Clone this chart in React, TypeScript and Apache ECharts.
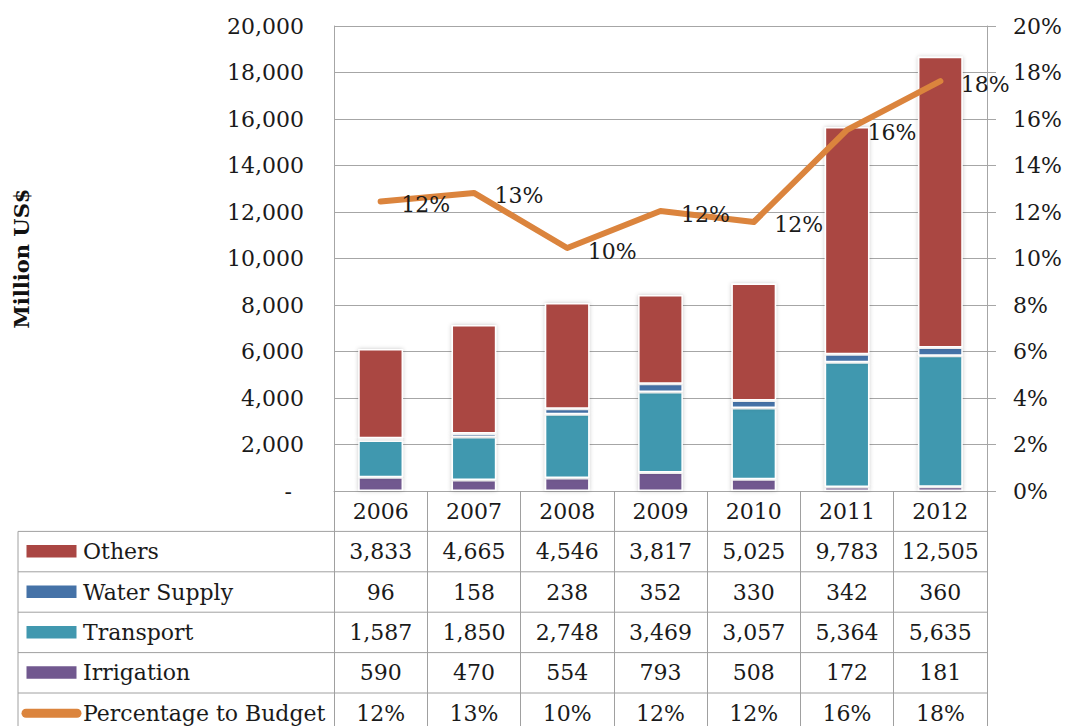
import React, { useEffect, useRef } from "react";
import * as echarts from "echarts";

const years = ["2006", "2007", "2008", "2009", "2010", "2011", "2012"];
const others = [3833, 4665, 4546, 3817, 5025, 9783, 12505];
const waterSupply = [96, 158, 238, 352, 330, 342, 360];
const transport = [1587, 1850, 2748, 3469, 3057, 5364, 5635];
const irrigation = [590, 470, 554, 793, 508, 172, 181];
const pctToBudget = [12.45, 12.82, 10.45, 12.04, 11.57, 15.53, 17.63];

const W = 1069;
const H = 726;
const GRID_LEFT = 334;
const GRID_RIGHT_X = 987;
const GRID_TOP = 26;
const AXIS_Y = 491;
const ROW_H = 40.4;
const TABLE_LEFT = 18;

const FONT = "DejaVu Serif";
const TXT = "#1a1a1a";
const GRIDC = "#a6a6a6";
const TABLEC = "#a0a0a0";

const COLORS = {
  others: "#AA4643",
  water: "#4572A7",
  transport: "#4198AF",
  irrigation: "#71588F",
  pct: "#DB843D",
};

const fmt = (v: number) => v.toLocaleString("en-US");

export default function App() {
  const ref = useRef<HTMLDivElement>(null);

  useEffect(() => {
    document.body.style.margin = "0";
    if (!ref.current) return;
    const chart = echarts.init(ref.current, null, { renderer: "svg" });

    const tableRows = [
      { name: "Others", color: COLORS.others, kind: "bar" },
      { name: "Water Supply", color: COLORS.water, kind: "bar" },
      { name: "Transport", color: COLORS.transport, kind: "bar" },
      { name: "Irrigation", color: COLORS.irrigation, kind: "bar" },
      { name: "Percentage to Budget", color: COLORS.pct, kind: "line" },
    ];

    const graphics: any[] = [];
    for (let k = 1; k <= 5; k++) {
      const y = AXIS_Y + ROW_H * k;
      graphics.push({
        type: "line",
        shape: { x1: TABLE_LEFT, y1: y, x2: GRID_RIGHT_X, y2: y },
        style: { stroke: TABLEC, lineWidth: 1 },
        silent: true,
      });
    }
    graphics.push({
      type: "line",
      shape: { x1: TABLE_LEFT, y1: AXIS_Y + ROW_H, x2: TABLE_LEFT, y2: H + 10 },
      style: { stroke: TABLEC, lineWidth: 1 },
      silent: true,
    });
    tableRows.forEach((r, i) => {
      const cy = AXIS_Y + ROW_H * (i + 1.5);
      if (r.kind === "bar") {
        graphics.push({
          type: "rect",
          shape: { x: 26.5, y: cy - 6.5, width: 50, height: 12.5 },
          style: { fill: r.color },
          silent: true,
        });
      } else {
        graphics.push({
          type: "line",
          shape: { x1: 26, y1: cy, x2: 77, y2: cy },
          style: { stroke: r.color, lineWidth: 9, lineCap: "round" },
          silent: true,
        });
      }
      graphics.push({
        type: "text",
        x: 83,
        y: cy,
        style: {
          text: r.name,
          font: `22px "${FONT}"`,
          fill: TXT,
          verticalAlign: "middle",
          align: "left",
        },
        silent: true,
      });
    });

    const barCommon = {
      type: "bar",
      stack: "total",
      barWidth: "48%",
      yAxisIndex: 0,
      itemStyle: {
        borderColor: "#ffffff",
        borderWidth: 1.5,
        shadowBlur: 4,
        shadowColor: "rgba(0,0,0,0.22)",
      },
      emphasis: { disabled: true },
    };

    chart.setOption({
      animation: false,
      grid: {
        left: GRID_LEFT,
        right: W - GRID_RIGHT_X,
        top: GRID_TOP,
        bottom: H - AXIS_Y,
        containLabel: false,
        outerBoundsMode: "none",
      },
      tooltip: { show: false },
      xAxis: {
        type: "category",
        data: years,
        boundaryGap: true,
        axisLine: { show: true, lineStyle: { color: GRIDC, width: 1 } },
        axisTick: {
          show: true,
          interval: 0,
          alignWithLabel: false,
          length: 260,
          lineStyle: { color: TABLEC, width: 1 },
        },
        axisLabel: {
          interval: 0,
          margin: 0,
          fontFamily: FONT,
          fontSize: 22,
          color: TXT,
          lineHeight: ROW_H,
          verticalAlign: "top",
          formatter: (v: string, i: number) =>
            [
              v,
              fmt(others[i]),
              fmt(waterSupply[i]),
              fmt(transport[i]),
              fmt(irrigation[i]),
              Math.round(pctToBudget[i]) + "%",
            ].join("\n"),
        },
        splitLine: { show: false },
      },
      yAxis: [
        {
          type: "value",
          min: 0,
          max: 20000,
          interval: 2000,
          name: "Million US$",
          nameLocation: "middle",
          nameGap: 302,
          nameRotate: 90,
          nameTextStyle: {
            fontFamily: FONT,
            fontWeight: "bold",
            fontSize: 21,
            color: "#111",
          },
          axisLine: { show: true, lineStyle: { color: GRIDC, width: 1 } },
          axisTick: { show: false },
          splitLine: { show: true, lineStyle: { color: GRIDC, width: 1 } },
          axisLabel: {
            margin: 30,
            fontFamily: FONT,
            fontSize: 22,
            color: TXT,
            formatter: (v: number) => (v === 0 ? "{d|-}" : fmt(v)),
            rich: {
              d: {
                fontFamily: FONT,
                fontSize: 22,
                color: TXT,
                padding: [0, 12, 0, 0],
              },
            },
          },
        },
        {
          type: "value",
          min: 0,
          max: 20,
          interval: 2,
          position: "right",
          axisLine: { show: true, lineStyle: { color: GRIDC, width: 1 } },
          axisTick: {
            show: true,
            inside: false,
            length: 9,
            lineStyle: { color: GRIDC, width: 1 },
          },
          splitLine: { show: false },
          axisLabel: {
            margin: 26,
            fontFamily: FONT,
            fontSize: 22,
            color: TXT,
            align: "left",
            formatter: (v: number) => v + "%",
          },
        },
      ],
      series: [
        {
          ...barCommon,
          name: "Irrigation",
          data: irrigation,
          itemStyle: { ...barCommon.itemStyle, color: COLORS.irrigation },
        },
        {
          ...barCommon,
          name: "Transport",
          data: transport,
          itemStyle: { ...barCommon.itemStyle, color: COLORS.transport },
        },
        {
          ...barCommon,
          name: "Water Supply",
          data: waterSupply,
          itemStyle: { ...barCommon.itemStyle, color: COLORS.water },
        },
        {
          ...barCommon,
          name: "Others",
          data: others,
          itemStyle: { ...barCommon.itemStyle, color: COLORS.others },
        },
        {
          type: "line",
          name: "Percentage to Budget",
          yAxisIndex: 1,
          data: pctToBudget,
          z: 5,
          symbol: "circle",
          symbolSize: 1,
          showSymbol: true,
          itemStyle: { color: COLORS.pct },
          lineStyle: { color: COLORS.pct, width: 6, cap: "round", join: "round" },
          emphasis: { disabled: true },
          label: {
            show: true,
            position: "right",
            distance: 20,
            offset: [0, 3],
            fontFamily: FONT,
            fontSize: 22,
            color: TXT,
            formatter: (p: any) => Math.round(p.value) + "%",
          },
        },
      ],
      graphic: graphics,
    });

    return () => chart.dispose();
  }, []);

  return (
    <div
      ref={ref}
      style={{
        position: "relative",
        width: W,
        height: H,
        background: "#ffffff",
      }}
    />
  );
}
